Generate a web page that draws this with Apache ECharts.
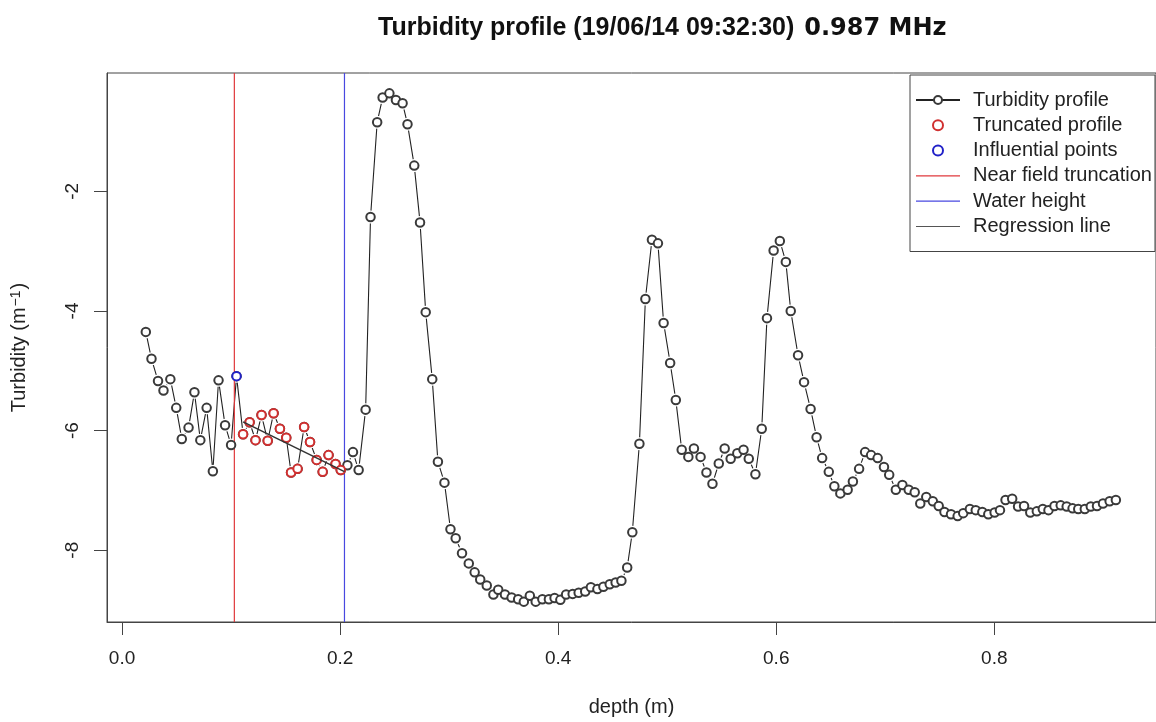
<!DOCTYPE html>
<html>
<head>
<meta charset="utf-8">
<script src="https://cdn.jsdelivr.net/npm/echarts@6/dist/echarts.min.js"></script>
<style>html,body{margin:0;padding:0;background:#fff}#chart{width:1156px;height:722px}</style>
</head>
<body>
<div id="chart"></div>
<script>
// ---- data ----
const depth = [
  0.0218, 0.027, 0.033, 0.038, 0.0443, 0.0497, 0.0548, 0.061, 0.0664, 0.0718,
  0.0776, 0.0833, 0.0885, 0.0945, 0.100, 0.105, 0.111, 0.117, 0.1224, 0.1279,
  0.1336, 0.139, 0.1448, 0.1506, 0.155, 0.161, 0.167, 0.1724, 0.1785, 0.184,
  0.1894, 0.1958, 0.2006, 0.2067, 0.2118, 0.217, 0.2234, 0.2279, 0.234, 0.239,
  0.2452, 0.2512, 0.2573, 0.2618, 0.268, 0.2733, 0.2785, 0.2845, 0.2897, 0.2957,
  0.3012, 0.306, 0.3118, 0.318, 0.3234, 0.3285, 0.3345, 0.3406, 0.345, 0.3512,
  0.3573, 0.3633, 0.3685, 0.374, 0.3794, 0.3855, 0.3915, 0.3967, 0.402, 0.4073,
  0.4133, 0.4188, 0.4248, 0.430, 0.436, 0.4415, 0.4473, 0.4527, 0.458, 0.4633,
  0.468, 0.4745, 0.480, 0.486, 0.4915, 0.4967, 0.5027, 0.5079, 0.5133, 0.5194,
  0.5245, 0.5306, 0.536, 0.5415, 0.5473, 0.5527, 0.5582, 0.5643, 0.570, 0.5748,
  0.5809, 0.5867, 0.5915, 0.5976, 0.6033, 0.6088, 0.6133, 0.620, 0.6255, 0.6315,
  0.637, 0.6421, 0.6482, 0.6533, 0.6588, 0.6655, 0.6703, 0.676, 0.6815, 0.687,
  0.693, 0.6988, 0.7036, 0.7097, 0.7157, 0.7215, 0.727, 0.7321, 0.7376, 0.7436,
  0.749, 0.7543, 0.7603, 0.7664, 0.7715, 0.7776, 0.783, 0.789, 0.7945, 0.8003,
  0.8052, 0.8103, 0.8164, 0.8218, 0.8273, 0.833, 0.839, 0.8445, 0.8497, 0.8552,
  0.8609, 0.8664, 0.8718, 0.877, 0.883, 0.8885, 0.8942, 0.8997, 0.9058, 0.9115
];
const turbidity = [
  -4.35, -4.80, -5.17, -5.33, -5.14, -5.62, -6.14, -5.95, -5.36, -6.16,
  -5.62, -6.68, -5.16, -5.91, -6.24, -5.09, -6.06, -5.86, -6.16, -5.74,
  -6.17, -5.71, -5.97, -6.12, -6.70, -6.64, -5.94, -6.19, -6.49, -6.69,
  -6.41, -6.56, -6.66, -6.58, -6.36, -6.66, -5.65, -2.43, -0.845, -0.433,
  -0.362, -0.472, -0.528, -0.878, -1.57, -2.52, -4.02, -5.14, -6.52, -6.87,
  -7.65, -7.80, -8.05, -8.22, -8.37, -8.49, -8.59, -8.74, -8.66, -8.74,
  -8.79, -8.82, -8.86, -8.76, -8.86, -8.82, -8.82, -8.80, -8.83, -8.74,
  -8.73, -8.71, -8.69, -8.62, -8.65, -8.61, -8.57, -8.54, -8.51, -8.29,
  -7.70, -6.22, -3.80, -2.81, -2.87, -4.20, -4.87, -5.49, -6.32, -6.44,
  -6.30, -6.44, -6.70, -6.89, -6.55, -6.30, -6.47, -6.38, -6.32, -6.47,
  -6.73, -5.97, -4.12, -2.99, -2.83, -3.18, -4.00, -4.74, -5.19, -5.64,
  -6.11, -6.46, -6.69, -6.93, -7.05, -6.99, -6.85, -6.64, -6.36, -6.41,
  -6.46, -6.61, -6.74, -6.99, -6.91, -6.99, -7.03, -7.22, -7.11, -7.18,
  -7.26, -7.36, -7.40, -7.43, -7.38, -7.31, -7.33, -7.36, -7.40, -7.37,
  -7.33, -7.16, -7.14, -7.27, -7.26, -7.37, -7.35, -7.31, -7.33, -7.26,
  -7.25, -7.27, -7.30, -7.31, -7.31, -7.27, -7.26, -7.22, -7.18, -7.16
];
const influentialDepth = [0.105];
const nearFieldTruncation = 0.103;
const waterHeight = 0.204;
const regressionIntercept = -4.86;
const regressionSlope = -8.95;
const xTicks = [0, 0.2, 0.4, 0.6, 0.8];
const yTicks = [-8, -6, -4, -2];
const xRange = [-0.0138, 0.9483];
const yRange = [-9.2, -0.022];

// ---- derived series ----
const profile = depth.map((d, i) => [d, turbidity[i]]);
const influential = profile.filter(p => influentialDepth.includes(p[0]));
const truncated = profile.filter(p => p[0] > nearFieldTruncation && p[0] < waterHeight && !influentialDepth.includes(p[0]));
const regStart = truncated[0][0];
const regression = [regStart, waterHeight].map(x => [x, regressionIntercept + regressionSlope * x]);
const nearLine = yRange.map(y => [nearFieldTruncation, y]);
const waterLine = yRange.map(y => [waterHeight, y]);

const textColor = '#222';
const font = 'Liberation Sans, Arial, sans-serif';
const lineIcon = 'path://M0,0L60,0L60,1.6L0,1.6Z';
const pointColor = '#3a3a3a';

const chart = echarts.init(document.getElementById('chart'), null, {renderer: 'canvas'});
chart.setOption({
  animation: false,
  backgroundColor: '#fff',
  title: {
    left: 378, top: 16, padding: 0,
    text: '{a|Turbidity profile (19/06/14 09:32:30)} {b|0.987 MHz}',
    textStyle: {
      fontFamily: font, fontWeight: 'bold', fontSize: 25, color: '#111',
      rich: {
        a: {fontFamily: font, fontWeight: 'bold', fontSize: 25, color: '#111'},
        b: {fontFamily: 'DejaVu Sans', fontWeight: 'bold', fontSize: 24, color: '#111', padding: [0, 0, 0, 3]}
      }
    }
  },
  grid: {left: 107, top: 73, width: 1058, height: 551, show: true, borderColor: '#444', borderWidth: 1, containLabel: false},
  xAxis: {
    type: 'value', min: xRange[0], max: xRange[1],
    name: 'depth (m)', nameLocation: 'middle', nameGap: 75,
    nameTextStyle: {fontFamily: font, fontSize: 20, color: textColor},
    axisLine: {show: true, onZero: false, lineStyle: {color: '#444', width: 1}},
    axisTick: {show: true, length: 13, customValues: xTicks, lineStyle: {color: '#444', width: 1}},
    axisLabel: {customValues: xTicks, margin: 27, fontFamily: font, fontSize: 19, color: textColor,
      formatter: v => v.toFixed(1)},
    splitLine: {show: false}
  },
  yAxis: {
    type: 'value', min: yRange[0], max: yRange[1],
    name: 'Turbidity (m{sup|\u22121})', nameLocation: 'middle', nameGap: 78, nameRotate: 90,
    nameTextStyle: {fontFamily: font, fontSize: 20, color: textColor,
      rich: {sup: {fontFamily: font, fontSize: 14, color: textColor, verticalAlign: 'top', padding: [0, 1, 0, 1]}}},
    axisLine: {show: true, onZero: false, lineStyle: {color: '#444', width: 1}},
    axisTick: {show: true, length: 13, customValues: yTicks, lineStyle: {color: '#444', width: 1}},
    axisLabel: {customValues: yTicks, rotate: 90, margin: 25, fontFamily: font, fontSize: 19, color: textColor,
      formatter: v => String(v)},
    splitLine: {show: false}
  },
  legend: {
    orient: 'vertical', left: 910, top: 75,
    padding: [15, 3, 15, 5], itemGap: 5.3, itemWidth: 44, itemHeight: 10,
    borderColor: '#444', borderWidth: 1, backgroundColor: '#fff',
    textStyle: {fontFamily: font, fontSize: 20, color: textColor, padding: [0, 0, 0, 8]},
    data: [
      {name: 'Turbidity profile'},
      {name: 'Truncated profile'},
      {name: 'Influential points'},
      {name: 'Near field truncation', icon: lineIcon},
      {name: 'Water height', icon: lineIcon},
      {name: 'Regression line', icon: lineIcon}
    ]
  },
  series: [
    {
      // connecting line of the profile (R type "b")
      name: 'Turbidity profile', type: 'line', data: profile, z: 2,
      symbol: 'emptyCircle', symbolSize: 8.5, showSymbol: false,
      lineStyle: {color: '#222', width: 1.1},
      itemStyle: {color: pointColor, borderColor: pointColor, borderWidth: 1.4}
    },
    {
      // white gap around each point, as R leaves between segments and points
      name: 'profile-gap', type: 'scatter', data: profile, z: 3, silent: true,
      symbol: 'circle', symbolSize: 13,
      itemStyle: {color: '#fff', opacity: 1}
    },
    {
      name: 'Near field truncation', type: 'line', data: nearLine, symbol: 'none', z: 4,
      lineStyle: {color: '#e0383c', width: 1.2}, itemStyle: {color: '#e0383c'}, silent: true
    },
    {
      name: 'Water height', type: 'line', data: waterLine, symbol: 'none', z: 4,
      lineStyle: {color: '#4848e0', width: 1.2}, itemStyle: {color: '#4848e0'}, silent: true
    },
    {
      name: 'profile-points', type: 'scatter', data: profile, z: 5,
      symbol: 'emptyCircle', symbolSize: 8.5,
      itemStyle: {color: pointColor, borderColor: pointColor, borderWidth: 1.4, opacity: 1}
    },
    {
      name: 'Truncated profile', type: 'scatter', data: truncated, z: 6,
      symbol: 'emptyCircle', symbolSize: 8.5,
      itemStyle: {color: '#d03030', borderColor: '#d03030', borderWidth: 1.4, opacity: 1}
    },
    {
      name: 'Influential points', type: 'scatter', data: influential, z: 6,
      symbol: 'emptyCircle', symbolSize: 8.5,
      itemStyle: {color: '#2222c8', borderColor: '#2222c8', borderWidth: 2, opacity: 1}
    },
    {
      name: 'Regression line', type: 'line', data: regression, symbol: 'none', z: 7,
      lineStyle: {color: '#333', width: 1.5}, itemStyle: {color: '#555'}
    }
  ]
});
</script>
</body>
</html>
